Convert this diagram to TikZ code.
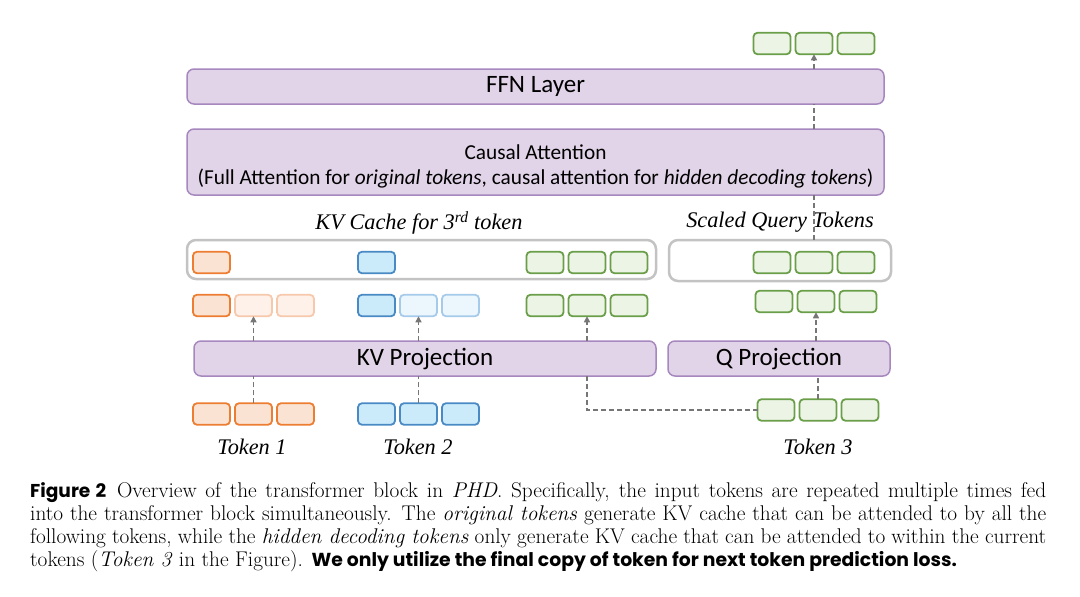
\documentclass[tikz,border=0pt]{standalone}
\usepackage{fontspec}
\usetikzlibrary{arrows.meta,calc}
\newfontfamily\calib{Carlito}
\newfontfamily\tms{Liberation Serif}
\newfontfamily\pop{Poppins}
\definecolor{org}{HTML}{ED7D31}
\definecolor{orgfill}{HTML}{FBE3D4}
\definecolor{orgfade}{HTML}{F7C9AC}
\definecolor{orgfadefill}{HTML}{FDF1E9}
\definecolor{blu}{HTML}{4A8AC4}
\definecolor{blufill}{HTML}{CBEBFA}
\definecolor{blufade}{HTML}{A6CBEA}
\definecolor{blufadefill}{HTML}{EBF6FD}
\definecolor{grn}{HTML}{6A9E48}
\definecolor{grnfill}{HTML}{ECF4E6}
\definecolor{purp}{HTML}{A687BE}
\definecolor{purpfill}{HTML}{E2D4E8}
\definecolor{cont}{HTML}{C3C3C3}
\definecolor{conn}{HTML}{767676}
\tikzset{
  tok/.style={rounded corners=4pt, line width=1.8pt, minimum width=37pt, minimum height=21.5pt, inner sep=0pt, outer sep=0pt},
  otok/.style={tok, draw=org, fill=orgfill},
  otokf/.style={tok, draw=orgfade, fill=orgfadefill},
  btok/.style={tok, draw=blu, fill=blufill},
  btokf/.style={tok, draw=blufade, fill=blufadefill},
  gtok/.style={tok, draw=grn, fill=grnfill},
  layer/.style={draw=purp, fill=purpfill, line width=1.5pt, rounded corners=7pt, inner sep=0pt, outer sep=0pt},
  container/.style={draw=cont, fill=white, line width=2.5pt, rounded corners=9pt, inner sep=0pt, outer sep=0pt},
  dashc/.style={draw=conn, line width=1.5pt, dash pattern=on 5pt off 3pt},
  arrc/.style={dashc, -{Triangle[length=6pt,width=6pt]}},
  lab/.style={font=\tms\itshape\fontsize{22.3}{25}\selectfont, inner sep=0pt}
}
\begin{document}
\begin{tikzpicture}[x=1pt,y=-1pt]
\useasboundingbox (0,0) rectangle (1080,597);
% layers
\node[layer, minimum width=697pt, minimum height=35pt, font=\calib\fontsize{25}{28}\selectfont] (ffn) at (535.5,86.5) {FFN Layer};
\node[layer, minimum width=697pt, minimum height=66pt, align=center, font=\calib\fontsize{21.3}{25}\selectfont] (ca) at (535.5,162) {\rule{0pt}{24pt}Causal Attention\\[-0.5pt](Full Attention for \textit{original tokens}, causal attention for \textit{hidden decoding tokens})};
\node[layer, minimum width=462pt, minimum height=35pt, font=\calib\fontsize{25}{28}\selectfont] (kvp) at (425,358.5) {KV Projection};
\node[layer, minimum width=222pt, minimum height=35pt, font=\calib\fontsize{25}{28}\selectfont] (qp) at (779,358.5) {Q Projection};
% containers
\node[container, minimum width=469pt, minimum height=39pt] (kvc) at (421.5,259.5) {};
\node[container, minimum width=222pt, minimum height=41pt] (qc) at (780,260.5) {};
% labels
\node[lab] (kvl) at (419,223) {KV Cache for 3\textsuperscript{rd} token};
\node[lab] (qcl) at (780,222) {Scaled Query Tokens};
\node[lab] (t1) at (252,447) {Token 1};
\node[lab] (t2) at (418,447) {Token 2};
\node[lab] (t3) at (818,447) {Token 3};
% output tokens
\node[gtok] (out1) at (772,43.5) {};
\node[gtok] (out2) at (814,43.5) {};
\node[gtok] (out3) at (856,43.5) {};
% cache row
\node[otok] (c1) at (211.5,262.5) {};
\node[btok] (c2) at (376.5,262.5) {};
\node[gtok] (c3a) at (545,262.5) {};
\node[gtok] (c3b) at (587,262.5) {};
\node[gtok] (c3c) at (629,262.5) {};
\node[gtok] (q1) at (772,262.5) {};
\node[gtok] (q2) at (814,262.5) {};
\node[gtok] (q3) at (856,262.5) {};
% projected row
\node[otok] (p1a) at (211.5,305.5) {};
\node[otokf] (p1b) at (253.5,305.5) {};
\node[otokf] (p1c) at (295.5,305.5) {};
\node[btok] (p2a) at (376.5,305.5) {};
\node[btokf] (p2b) at (418.5,305.5) {};
\node[btokf] (p2c) at (460.5,305.5) {};
\node[gtok] (p3a) at (545,305.5) {};
\node[gtok] (p3b) at (587,305.5) {};
\node[gtok] (p3c) at (629,305.5) {};
\node[gtok] (pq1) at (774,301.5) {};
\node[gtok] (pq2) at (816,301.5) {};
\node[gtok] (pq3) at (858,301.5) {};
% input tokens
\node[otok] (i1a) at (211.5,414) {};
\node[otok] (i1b) at (253.5,414) {};
\node[otok] (i1c) at (295.5,414) {};
\node[btok] (i2a) at (376.5,414) {};
\node[btok] (i2b) at (418.5,414) {};
\node[btok] (i2c) at (460.5,414) {};
\node[gtok] (i3a) at (776,410) {};
\node[gtok] (i3b) at (818,410) {};
\node[gtok] (i3c) at (860,410) {};
% connectors
\draw[dashc] (i1b.north) -- (i1b.north |- kvp.south);
\draw[dashc] (i2b.north) -- (i2b.north |- kvp.south);
\draw[dashc] (i3b.north) -- (i3b.north |- qp.south);
\draw[dashc] (i3a.west) -| (p3b.center |- kvp.south);
\draw[arrc] (p1b.center |- kvp.north) -- (p1b.south);
\draw[arrc] (p2b.center |- kvp.north) -- (p2b.south);
\draw[arrc] (p3b.center |- kvp.north) -- (p3b.south);
\draw[arrc] (pq2.center |- qp.north) -- (pq2.south);
\draw[dashc] (q2.center |- qc.north) -- (q2.center |- ca.south);
\draw[dashc] (out2.center |- ca.north) -- (out2.center |- ffn.south);
\draw[arrc] (out2.center |- ffn.north) -- (out2.south);
% caption
\node[anchor=north west, inner sep=0pt, text width=1016pt, align=justify, font=\fontsize{21.3}{23}\selectfont] (cap) at (30,482) {%
{\pop\fontsize{18.6}{23}\selectfont\bfseries Figure 2}\enspace Overview of the transformer block in \textit{PHD}. Specifically, the input tokens are repeated multiple times fed\linebreak
into the transformer block simultaneously. The \textit{original tokens} generate KV cache that can be attended to by all the\linebreak
following tokens, while the \textit{hidden decoding tokens} only generate KV cache that can be attended to within the current\linebreak
tokens (\textit{Token 3} in the Figure). {\pop\fontsize{18.8}{23}\selectfont\bfseries We only utilize the final copy of token for next token prediction loss.}};
\end{tikzpicture}
\end{document}
